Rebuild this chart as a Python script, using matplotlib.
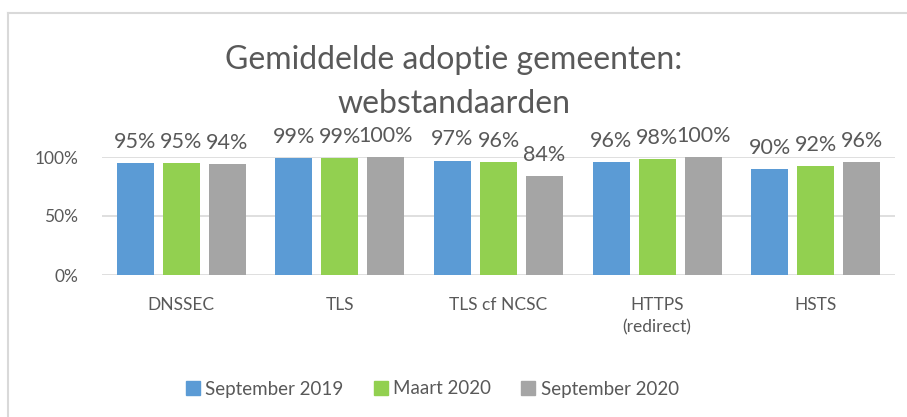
import numpy as np
import matplotlib.pyplot as plt
from matplotlib.lines import Line2D

# === Data ===
categories = ["DNSSEC", "TLS", "TLS cf NCSC", "HTTPS\n(redirect)", "HSTS"]
series_names = ["September 2019", "Maart 2020", "September 2020"]
sep_2019 = [95, 99, 97, 96, 90]
mrt_2020 = [95, 99, 96, 98, 92]
sep_2020 = [94, 100, 84, 100, 96]

colors = ["#5B9BD5", "#92D050", "#A5A5A5"]
txt = "#595959"

plt.rcParams["font.family"] = ["Lato", "DejaVu Sans"]

W, H = 907, 417
fig = plt.figure(figsize=(W / 100, H / 100), dpi=100)

# plot area in pixels: x 102..895, y 157..275
ax = fig.add_axes([102 / W, 1 - 275 / H, (895 - 102) / W, (275 - 157) / H])

x = np.arange(len(categories))
width = 0.233
offsets = [-0.29, 0, 0.29]
for vals, off, col, name in zip([sep_2019, mrt_2020, sep_2020], offsets, colors, series_names):
    bars = ax.bar(x + off, np.array(vals) / 100, width, color=col, label=name, zorder=3)
    for b, v in zip(bars, vals):
        ax.annotate(f"{v}%", (b.get_x() + b.get_width() / 2, b.get_height()),
                    xytext=(0, 8), textcoords="offset points", ha="center", va="bottom",
                    fontsize=15.5, color=txt)

ax.set_xlim(-0.5, len(categories) - 0.5)
ax.set_ylim(0, 1)
ax.set_yticks([0, 0.5, 1])
ax.set_yticklabels(["0%", "50%", "100%"])
ax.set_xticks(x)
ax.set_xticklabels(categories, linespacing=1.5)
ax.tick_params(axis="y", length=0, pad=17, labelsize=12.5, labelcolor=txt)
ax.tick_params(axis="x", length=0, pad=16, labelsize=12.5, labelcolor=txt)
ax.grid(axis="y", color="#D9D9D9", linewidth=1.2, zorder=0)
for s in ax.spines.values():
    s.set_visible(False)

fig.text(0.5, 1 - 82 / H, "Gemiddelde adoptie gemeenten:\nwebstandaarden",
         ha="center", va="center", fontsize=23, color=txt, linespacing=1.6)

handles = [Line2D([], [], marker="s", linestyle="", markersize=10, color=c) for c in colors]
fig.legend(handles, series_names, loc="center", bbox_to_anchor=(431 / W, 1 - 389 / H),
           ncol=3, frameon=False, fontsize=13.5, labelcolor=txt,
           handletextpad=0.15, columnspacing=1.5, handlelength=1.0)

# chart border (left and top visible)
fig.add_artist(Line2D([8 / W, 8 / W], [0, 1 - 13 / H], color="#D9D9D9", lw=1.5))
fig.add_artist(Line2D([8 / W, 1], [1 - 13 / H, 1 - 13 / H], color="#D9D9D9", lw=1.5))

fig.savefig("out.png", dpi=100, facecolor="white")
